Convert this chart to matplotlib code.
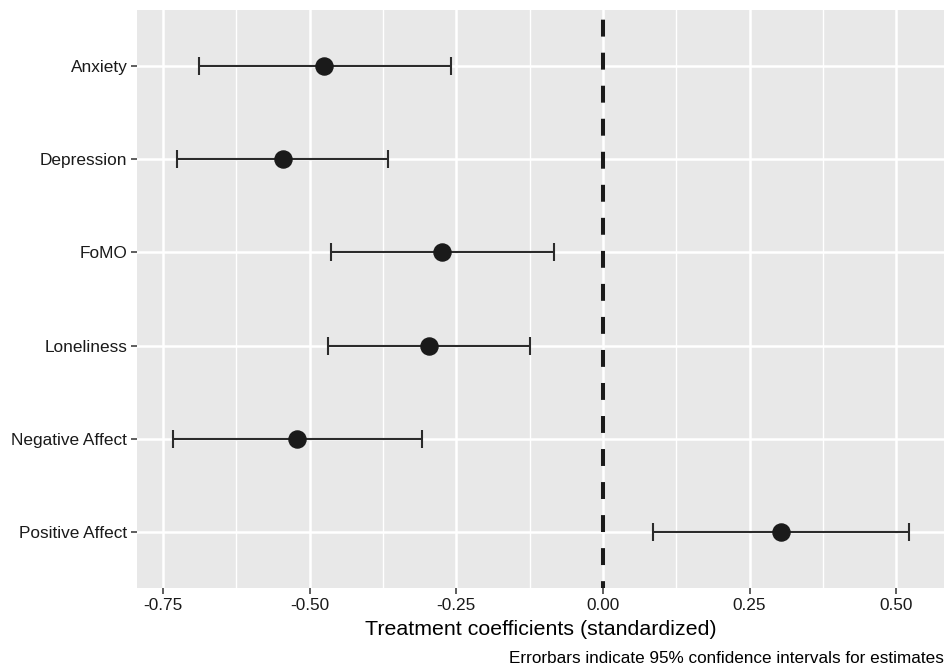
import matplotlib
matplotlib.use("Agg")
import matplotlib.pyplot as plt
import numpy as np

categories = ["Anxiety", "Depression", "FoMO", "Loneliness", "Negative Affect", "Positive Affect"]
estimates = [-0.475, -0.546, -0.274, -0.296, -0.521, 0.303]
ci_low = [-0.688, -0.726, -0.464, -0.468, -0.732, 0.086]
ci_high = [-0.259, -0.367, -0.083, -0.124, -0.308, 0.521]
xticks = [-0.75, -0.50, -0.25, 0.00, 0.25, 0.50]
xtick_labels = ["-0.75", "-0.50", "-0.25", "0.00", "0.25", "0.50"]

plt.rcParams['font.family'] = ['Liberation Sans', 'DejaVu Sans']

fig = plt.figure(figsize=(9.45, 6.67), dpi=100)
ax = fig.add_axes([137/945, 1-588/667, 1-137/945, (588-10)/667])
ax.set_facecolor("#E8E8E8")

n = len(categories)
ypos = np.arange(n)[::-1]  # Anxiety at top

# grid
minor = [-0.625, -0.375, -0.125, 0.125, 0.375]
for m in minor:
    ax.axvline(m, color="white", lw=1.0, zorder=0)
for t in xticks:
    ax.axvline(t, color="white", lw=1.8, zorder=0)
for y in ypos:
    ax.axhline(y, color="white", lw=1.8, zorder=0)

# zero line
ax.axvline(0, color="#1a1a1a", lw=2.9, linestyle=(2.5, (4.2, 4.0)), zorder=2)

est = np.array(estimates)
lo = np.array(ci_low)
hi = np.array(ci_high)
ax.errorbar(est, ypos, xerr=[est - lo, hi - est], fmt="none", ecolor="#2b2b2b",
            elinewidth=1.5, capsize=6.8, capthick=1.5, zorder=3)
ax.plot(est, ypos, "o", color="#1a1a1a", markersize=12.3, zorder=4)

ax.set_xlim(-0.794, 0.583)
ax.set_ylim(-0.6, n - 1 + 0.6)
ax.set_xticks(xticks)
ax.set_xticklabels(xtick_labels)
ax.set_yticks(ypos)
ax.set_yticklabels(categories)
ax.tick_params(axis="both", colors="#333333", length=4, width=1.1, labelsize=12.4,
               labelcolor="#1a1a1a", pad=3)
for s in ax.spines.values():
    s.set_visible(False)

ax.set_xlabel("Treatment coefficients (standardized)", fontsize=15.4, color="black", labelpad=5)
fig.text(0.999, 0.002, "Errorbars indicate 95% confidence intervals for estimates",
         ha="right", va="bottom", fontsize=12.3, color="black")

fig.savefig("out.png", dpi=100)
